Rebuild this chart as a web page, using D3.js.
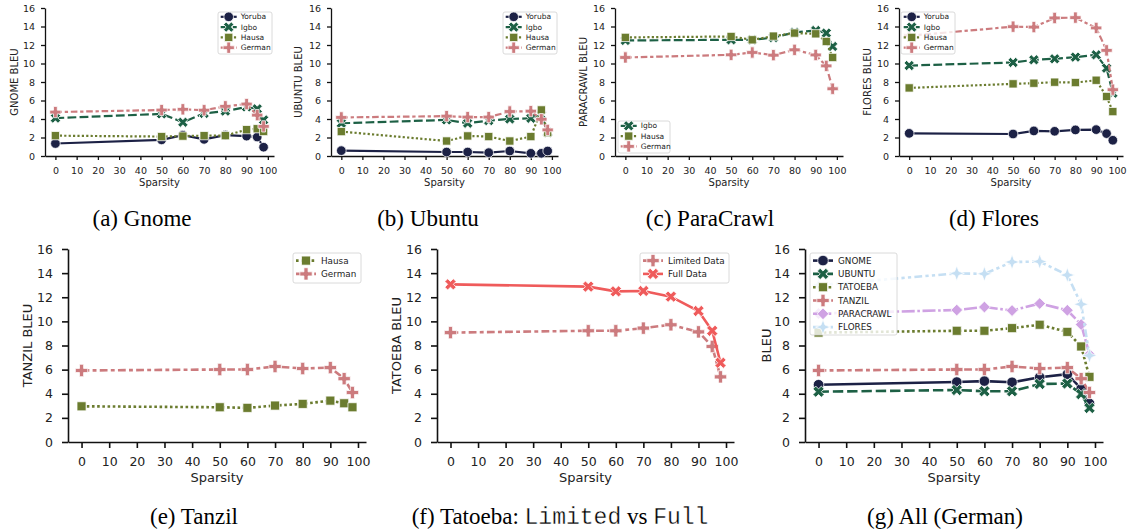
<!DOCTYPE html>
<html>
<head>
<meta charset="utf-8">
<script src="https://cdn.jsdelivr.net/npm/d3@7"></script>
<style>
  body { margin: 0; background: #fff; }
  svg { display: block; font-family: "DejaVu Sans", sans-serif; }
</style>
</head>
<body>
<svg id="chart" width="1131" height="530"></svg>
<script>
// Sparsity levels shared by every panel, and the axis ticks
const sparsity = [0, 50, 60, 70, 80, 90, 95, 98];
const xTicks = [0, 10, 20, 30, 40, 50, 60, 70, 80, 90, 100];
const yTicks = [0, 2, 4, 6, 8, 10, 12, 14, 16];

// (a) Gnome
const gnomeYoruba = [1.35, 1.75, 2.25, 1.8, 2.25, 2.15, 2.05, 0.95];
const gnomeIgbo   = [4.1, 4.55, 3.65, 4.6, 4.85, 5.3, 5.1, 3.9];
const gnomeHausa  = [2.2, 2.1, 2.15, 2.2, 2.2, 2.85, 2.95, 2.65];
const gnomeGerman = [4.75, 4.97, 5.05, 4.95, 5.37, 5.62, 4.42, 3.2];

// (b) Ubuntu
const ubuntuYoruba = [0.58, 0.43, 0.43, 0.36, 0.54, 0.29, 0.29, 0.54];
const ubuntuIgbo   = [3.54, 3.9, 3.54, 3.83, 4.0, 4.08, 4.44, 2.56];
const ubuntuHausa  = [2.64, 1.62, 2.17, 2.1, 1.62, 2.1, 4.98, 2.53];
const ubuntuGerman = [4.17, 4.31, 4.21, 4.21, 4.81, 4.85, 3.97, 2.82];

// (c) ParaCrawl
const paracrawlIgbo   = [12.49, 12.56, 12.56, 12.8, 13.36, 13.57, 13.29, 11.84];
const paracrawlHausa  = [12.82, 12.92, 12.56, 12.96, 13.29, 13.21, 12.38, 10.65];
const paracrawlGerman = [10.65, 10.94, 11.19, 10.9, 11.48, 10.92, 9.74, 7.27];

// (d) Flores
const floresYoruba = [2.45, 2.38, 2.71, 2.67, 2.82, 2.85, 2.42, 1.7];
const floresIgbo   = [9.78, 10.11, 10.4, 10.51, 10.69, 10.94, 9.49, 6.79];
const floresHausa  = [7.36, 7.8, 7.87, 7.98, 7.94, 8.19, 6.43, 4.8];
const floresGerman = [13.0, 13.98, 13.94, 14.92, 14.96, 13.84, 11.42, 7.17];

// (e) Tanzil
const tanzilHausa  = [2.96, 2.88, 2.83, 3.02, 3.16, 3.43, 3.21, 2.88];
const tanzilGerman = [5.93, 6.01, 6.01, 6.26, 6.09, 6.17, 5.25, 4.1];

// (f) Tatoeba, German
const tatoebaLimited = [9.07, 9.22, 9.22, 9.44, 9.72, 9.13, 7.92, 5.4];
const tatoebaFull    = [13.07, 12.88, 12.49, 12.52, 12.05, 10.86, 9.22, 6.57];

// series styles (seaborn-like)
const styles = {
  Yoruba:  { color: "#1c2145", marker: "circle", dash: null },
  Igbo:    { color: "#1d6045", marker: "x", dash: [4, 1.5] },
  Hausa:   { color: "#6b7c2f", marker: "square", dash: [1, 1] },
  German:  { color: "#cc7b7e", marker: "plus", dash: [3, 1.25, 1.5, 1.25] },
  Full:    { color: "#ef5b5b", marker: "x", dash: null },
  Para:    { color: "#cfa2e3", marker: "diamond", dash: [5, 1, 1, 1] },
  Flores:  { color: "#c5dff3", marker: "star4", dash: [3, 1.25, 1.25, 1.25, 1.25, 1.25] }
};

const rows = {
  top: { tick: 4, padX: 7.5, padY: 6, tickFont: 9.5, labelFont: 10, lw: 2.2, ms: 1.05,
         xlabelY: 186, axisW: 1.3, legFont: 7.5, legRow: 10.3, legFirst: 4.8,
         legHandle: [2.7, 18.7], legText: 22.7 },
  bottom: { tick: 6, padX: 9, padY: 9, tickFont: 12.5, labelFont: 13, lw: 2.6, ms: 1.15,
            xlabelY: 482, axisW: 1.6, legFont: 8.8, legRow: 13.3, legFirst: 7.6,
            legHandle: [3, 23], legText: 28 }
};

const panels = [
  { row: "top", box: [45, 274, 8, 156], ylabel: "GNOME BLEU", ylabelX: 14,
    series: [["Yoruba", gnomeYoruba, "Yoruba"], ["Igbo", gnomeIgbo, "Igbo"],
             ["Hausa", gnomeHausa, "Hausa"], ["German", gnomeGerman, "German"]],
    legend: [218, 12, 54, 42] },
  { row: "top", box: [331, 558, 8, 156], ylabel: "UBUNTU BLEU", ylabelX: 298,
    series: [["Yoruba", ubuntuYoruba, "Yoruba"], ["Igbo", ubuntuIgbo, "Igbo"],
             ["Hausa", ubuntuHausa, "Hausa"], ["German", ubuntuGerman, "German"]],
    legend: [503, 12, 54, 42] },
  { row: "top", box: [615, 843, 8, 156], ylabel: "PARACRAWL BLEU", ylabelX: 583,
    series: [["Igbo", paracrawlIgbo, "Igbo"], ["Hausa", paracrawlHausa, "Hausa"],
             ["German", paracrawlGerman, "German"]],
    legend: [618, 121, 52, 32] },
  { row: "top", box: [899, 1123, 8, 156], ylabel: "FLORES BLEU", ylabelX: 867,
    series: [["Yoruba", floresYoruba, "Yoruba"], ["Igbo", floresIgbo, "Igbo"],
             ["Hausa", floresHausa, "Hausa"], ["German", floresGerman, "German"]],
    legend: [901, 12, 54, 42] },
  { row: "bottom", box: [68, 366, 249, 442], ylabel: "TANZIL BLEU", ylabelX: 27,
    series: [["Hausa", tanzilHausa, "Hausa"], ["German", tanzilGerman, "German"]],
    legend: [293, 253, 68, 30] },
  { row: "bottom", box: [437, 734, 249, 442], ylabel: "TATOEBA BLEU", ylabelX: 396,
    series: [["Limited Data", tatoebaLimited, "German"], ["Full Data", tatoebaFull, "Full"]],
    legend: [640, 253, 89, 30] },
  { row: "bottom", box: [805, 1103, 249, 442], ylabel: "BLEU", ylabelX: 766,
    series: [["GNOME", gnomeGerman, "Yoruba"], ["UBUNTU", ubuntuGerman, "Igbo"],
             ["TATOEBA", tatoebaLimited, "Hausa"], ["TANZIL", tanzilGerman, "German"],
             ["PARACRAWL", paracrawlGerman, "Para"], ["FLORES", floresGerman, "Flores"]],
    legend: [810, 253, 87, 82] }
];

const captions = [
  { x: 142, y: 226, parts: [["(a) Gnome", false]] },
  { x: 428, y: 226, parts: [["(b) Ubuntu", false]] },
  { x: 710, y: 226, parts: [["(c) ParaCrawl", false]] },
  { x: 994, y: 226, parts: [["(d) Flores", false]] },
  { x: 194, y: 524, parts: [["(e) Tanzil", false]] },
  { x: 560, y: 524, parts: [["(f) Tatoeba: ", false], ["Limited", true], [" vs ", false], ["Full", true]] },
  { x: 945, y: 524, parts: [["(g) All (German)", false]] }
];

const svg = d3.select("#chart");
svg.append("rect").attr("width", 1131).attr("height", 530).attr("fill", "#fff");

// 4-pointed star like matplotlib's (4,1,0)
const symbolStar4 = {
  draw(ctx, size) {
    const r = Math.sqrt(size) * 0.78, ri = r * 0.38;
    for (let i = 0; i < 8; i++) {
      const a = i * Math.PI / 4 - Math.PI / 2;
      const rr = i % 2 === 0 ? r : ri;
      if (i === 0) ctx.moveTo(rr * Math.cos(a), rr * Math.sin(a));
      else ctx.lineTo(rr * Math.cos(a), rr * Math.sin(a));
    }
    ctx.closePath();
  }
};

function drawMarker(g, type, cx, cy, color, scale) {
  let sym, size, rot = 0;
  if (type === "circle") { sym = d3.symbolCircle; size = 66; }
  else if (type === "square") { sym = d3.symbolSquare; size = 62; }
  else if (type === "plus") { sym = d3.symbolCross; size = 64; }
  else if (type === "x") { sym = d3.symbolCross; size = 60; rot = 45; }
  else if (type === "diamond") { sym = d3.symbolSquare; size = 52; rot = 45; }
  else { sym = symbolStar4; size = 70; }
  g.append("path")
    .attr("d", d3.symbol(sym, size * scale * scale)())
    .attr("transform", `translate(${cx},${cy}) rotate(${rot})`)
    .attr("fill", color)
    .attr("stroke", "#fff")
    .attr("stroke-width", 0.75);
}

panels.forEach(p => {
  const cfg = rows[p.row];
  const [left, right, top, bottom] = p.box;
  const x = d3.scaleLinear().domain([-4.9, 102.9]).range([left, right]);
  const y = d3.scaleLinear().domain([0, 16]).range([bottom, top]);

  // axes
  const xAxis = svg.append("g")
    .attr("transform", `translate(0,${bottom})`)
    .call(d3.axisBottom(x).tickValues(xTicks).tickSize(cfg.tick).tickSizeOuter(0).tickPadding(cfg.padX));
  const yAxis = svg.append("g")
    .attr("transform", `translate(${left},0)`)
    .call(d3.axisLeft(y).tickValues(yTicks).tickSize(cfg.tick).tickSizeOuter(0).tickPadding(cfg.padY));
  [xAxis, yAxis].forEach(a => {
    a.select(".domain").attr("stroke", "#111").attr("stroke-width", cfg.axisW);
    a.selectAll(".tick line").attr("stroke", "#111").attr("stroke-width", cfg.axisW);
    a.selectAll(".tick text").attr("fill", "#222").style("font-size", cfg.tickFont + "px")
      .style("font-family", "DejaVu Sans");
  });

  svg.append("text")
    .attr("x", (left + right) / 2)
    .attr("y", cfg.xlabelY)
    .attr("text-anchor", "middle")
    .attr("fill", "#222")
    .style("font-size", cfg.labelFont + "px")
    .text("Sparsity");

  svg.append("text")
    .attr("transform", `translate(${p.ylabelX},${(top + bottom) / 2}) rotate(-90)`)
    .attr("text-anchor", "middle")
    .attr("dy", "0.35em")
    .attr("fill", "#222")
    .style("font-size", cfg.labelFont + "px")
    .text(p.ylabel);

  // lines + markers
  const line = d3.line().x((d, i) => x(sparsity[i])).y(d => y(d));
  p.series.forEach(([name, values, styleKey]) => {
    const st = styles[styleKey];
    const g = svg.append("g");
    g.append("path")
      .datum(values)
      .attr("d", line)
      .attr("fill", "none")
      .attr("stroke", st.color)
      .attr("stroke-width", cfg.lw)
      .attr("stroke-dasharray", st.dash ? st.dash.map(v => v * cfg.lw).join(",") : null);
    values.forEach((v, i) => drawMarker(g, st.marker, x(sparsity[i]), y(v), st.color, cfg.ms));
  });

  // legend
  const [lx, ly, lw, lh] = p.legend;
  const lg = svg.append("g");
  lg.append("rect")
    .attr("x", lx).attr("y", ly).attr("width", lw).attr("height", lh)
    .attr("rx", 2)
    .attr("fill", "#fff").attr("fill-opacity", 0.8)
    .attr("stroke", "#d0d0d0").attr("stroke-width", 0.8);
  p.series.forEach(([name, values, styleKey], i) => {
    const st = styles[styleKey];
    const cy = ly + cfg.legFirst + i * cfg.legRow;
    lg.append("line")
      .attr("x1", lx + cfg.legHandle[0]).attr("x2", lx + cfg.legHandle[1])
      .attr("y1", cy).attr("y2", cy)
      .attr("stroke", st.color)
      .attr("stroke-width", cfg.lw)
      .attr("stroke-dasharray", st.dash ? st.dash.map(v => v * cfg.lw).join(",") : null);
    drawMarker(lg, st.marker, lx + (cfg.legHandle[0] + cfg.legHandle[1]) / 2, cy, st.color, cfg.ms);
    lg.append("text")
      .attr("x", lx + cfg.legText)
      .attr("y", cy)
      .attr("dy", "0.35em")
      .attr("fill", "#222")
      .style("font-size", cfg.legFont + "px")
      .text(name);
  });
});

// sub-figure captions
captions.forEach(c => {
  const t = svg.append("text")
    .attr("x", c.x).attr("y", c.y)
    .attr("text-anchor", "middle")
    .attr("fill", "#000")
    .style("font-family", "'Liberation Serif', 'Times New Roman', serif")
    .style("font-size", "23px");
  c.parts.forEach(([s, mono]) => {
    const ts = t.append("tspan")
      .attr("xml:space", "preserve")
      .text(s);
    if (mono) {
      // thin the monospace glyphs a little, Courier-like
      ts.style("font-family", "'Liberation Mono', 'DejaVu Sans Mono', monospace")
        .attr("fill", "#000")
        .attr("stroke", "#fff")
        .attr("stroke-width", 0.35);
    }
  });
});
</script>
</body>
</html>
